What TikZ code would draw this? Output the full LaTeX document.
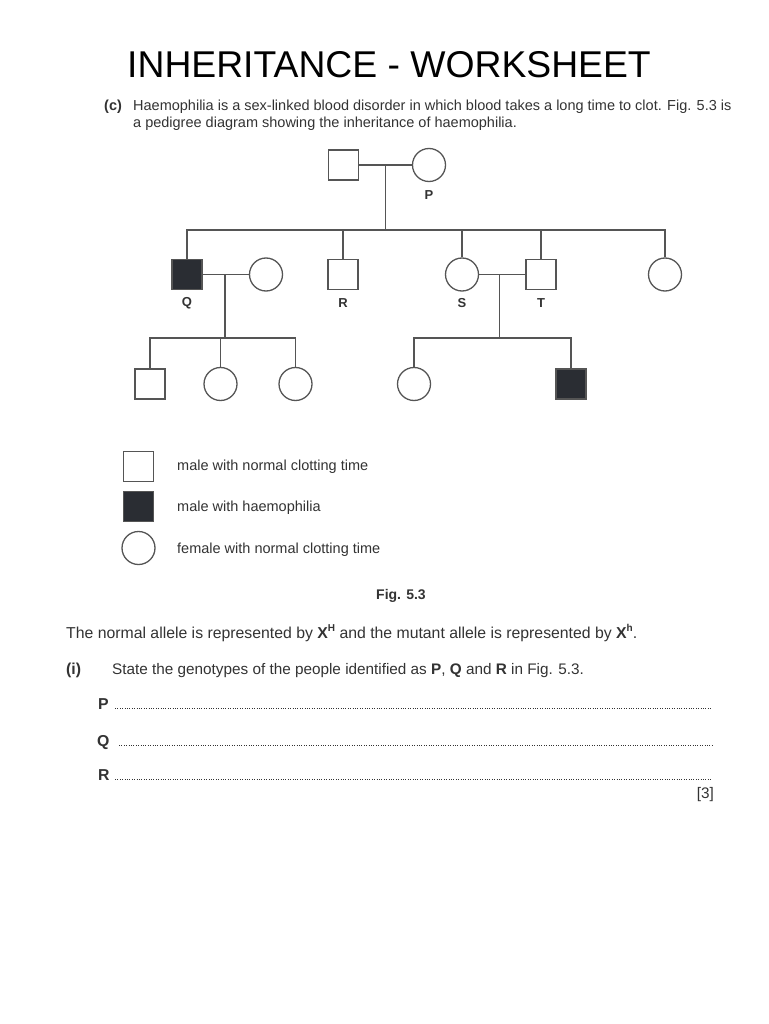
\documentclass[tikz,border=0pt]{standalone}
\usepackage{fontspec}
\setmainfont{Liberation Sans}
\usetikzlibrary{calc}
\definecolor{linec}{HTML}{555555}
\definecolor{darkfill}{HTML}{2A2D33}
\definecolor{textc}{HTML}{333333}
\begin{document}
\begin{tikzpicture}[x=1pt,y=-1pt,
  male/.style={draw=linec, line width=1.3pt, rectangle, minimum size=30pt, inner sep=0pt, fill=white},
  affected/.style={male, fill=darkfill},
  female/.style={draw=linec, line width=1.3pt, circle, minimum size=33pt, inner sep=0pt, fill=white},
  link/.style={draw=linec, line width=1.3pt},
  lbl/.style={font=\fontsize{13}{14}\selectfont\bfseries, text=textc, inner sep=0pt},
  body/.style={font=\fontsize{14.5}{17}\selectfont, text=textc, anchor=base west, inner sep=0pt},
  bodyb/.style={body, font=\fontsize{14.5}{17}\selectfont\bfseries},
  qtext/.style={font=\fontsize{15.8}{17}\selectfont, text=textc, anchor=base west, inner sep=0pt},
  qtextb/.style={qtext, font=\fontsize{15.8}{17}\selectfont\bfseries},
  stext/.style={qtext, font=\fontsize{15.3}{17}\selectfont},
  answer/.style={draw=textc, line width=0.9pt, dash pattern=on 0.9pt off 1.5pt},
]
\useasboundingbox (0,0) rectangle (768,1024);
\fill[white] (0,0) rectangle (768,1024);

% title
\node[anchor=base, inner sep=0pt, font=\fontsize{37.3}{40}\selectfont] (title) at (389,78) {INHERITANCE - WORKSHEET};

% intro text
\node[bodyb] (c) at (104,111) {(c)};
\node[body] (intro1) at (133,111) {Haemophilia is a sex-linked blood disorder in which blood takes a long time to clot. Fig. 5.3 is};
\node[body] (intro2) at (133,128) {a pedigree diagram showing the inheritance of haemophilia.};

% generation I
\node[male] (gf) at (343.5,165) {};
\node[female] (P) at (429,165) {};
\node[lbl] (Plbl) at (429,195) {P};
\coordinate (m1) at (385.5,165);
\coordinate (s1) at (385.5,230);
\draw[link] (gf) -- (P);
\draw[link] (m1) -- (s1);

% generation II
\node[affected] (Q) at (187,274.5) {};
\node[female] (Qw) at (266,274.5) {};
\node[male] (R) at (343,274.5) {};
\node[female] (S) at (462,274.5) {};
\node[male] (T) at (541,274.5) {};
\node[female] (L) at (665,274.5) {};
\node[lbl] (Qlbl) at (187,303.5) {Q};
\node[lbl] (Rlbl) at (343,303.5) {R};
\node[lbl] (Slbl) at (462,303.5) {S};
\node[lbl] (Tlbl) at (541,303.5) {T};

\draw[link] (Q.north) -- (Q.north |- s1) -- (L.north |- s1) -- (L.north);
\draw[link] (R.north) -- (R.north |- s1);
\draw[link] (S.north) -- (S.north |- s1);
\draw[link] (T.north) -- (T.north |- s1);

\draw[link] (Q) -- (Qw);
\draw[link] (S) -- (T);
\coordinate (m2) at (225,274.5);
\coordinate (k1) at (225,338);
\coordinate (m3) at (499.5,274.5);
\coordinate (k2) at (499.5,338);
\draw[link] (m2) -- (k1);
\draw[link] (m3) -- (k2);

% generation III
\node[male] (c1) at (150,384) {};
\node[female] (c2) at (220.5,384) {};
\node[female] (c3) at (295.5,384) {};
\node[female] (c4) at (414,384) {};
\node[affected] (c5) at (571,384) {};
\draw[link] (c1.north) -- (c1.north |- k1) -- (c3.north |- k1) -- (c3.north);
\draw[link] (c2.north) -- (c2.north |- k1);
\draw[link] (c4.north) -- (c4.north |- k2) -- (c5.north |- k2) -- (c5.north);

% key
\node[male] (k_m) at (138.5,466.5) {};
\node[affected] (k_a) at (138.5,506.5) {};
\node[female] (k_f) at (138.5,548) {};
\node[body] (t_m) at (177,470) {male with normal clotting time};
\node[body] (t_a) at (177,511) {male with haemophilia};
\node[body] (t_f) at (177,553) {female with normal clotting time};

\node[anchor=base, inner sep=0pt, text=textc, font=\fontsize{14}{16}\selectfont\bfseries] (fig) at (401,599) {Fig. 5.3};

% question text
\node[qtext] (allele) at (66,638) {The normal allele is represented by \textbf{X}\raisebox{0.42em}{\fontsize{10}{10}\selectfont\bfseries H} and the mutant allele is represented by \textbf{X}\raisebox{0.42em}{\fontsize{10}{10}\selectfont\bfseries h}.};
\node[qtextb] (i) at (66,674) {(i)};
\node[stext] (state) at (112,674) {State the genotypes of the people identified as \textbf{P}, \textbf{Q} and \textbf{R} in Fig. 5.3.};

\node[qtextb] (aP) at (98,709) {P};
\node[qtextb] (aQ) at (97,746) {Q};
\node[qtextb] (aR) at (98,780) {R};
\coordinate (dP1) at (115,708); \coordinate (dP2) at (712,708);
\coordinate (dQ1) at (119,745); \coordinate (dQ2) at (712,745);
\coordinate (dR1) at (115,779); \coordinate (dR2) at (712,779);
\draw[answer] (dP1) -- (dP2);
\draw[answer] (dQ1) -- (dQ2);
\draw[answer] (dR1) -- (dR2);
\node[stext, anchor=base east] (marks) at (714,798) {[3]};
\end{tikzpicture}
\end{document}
